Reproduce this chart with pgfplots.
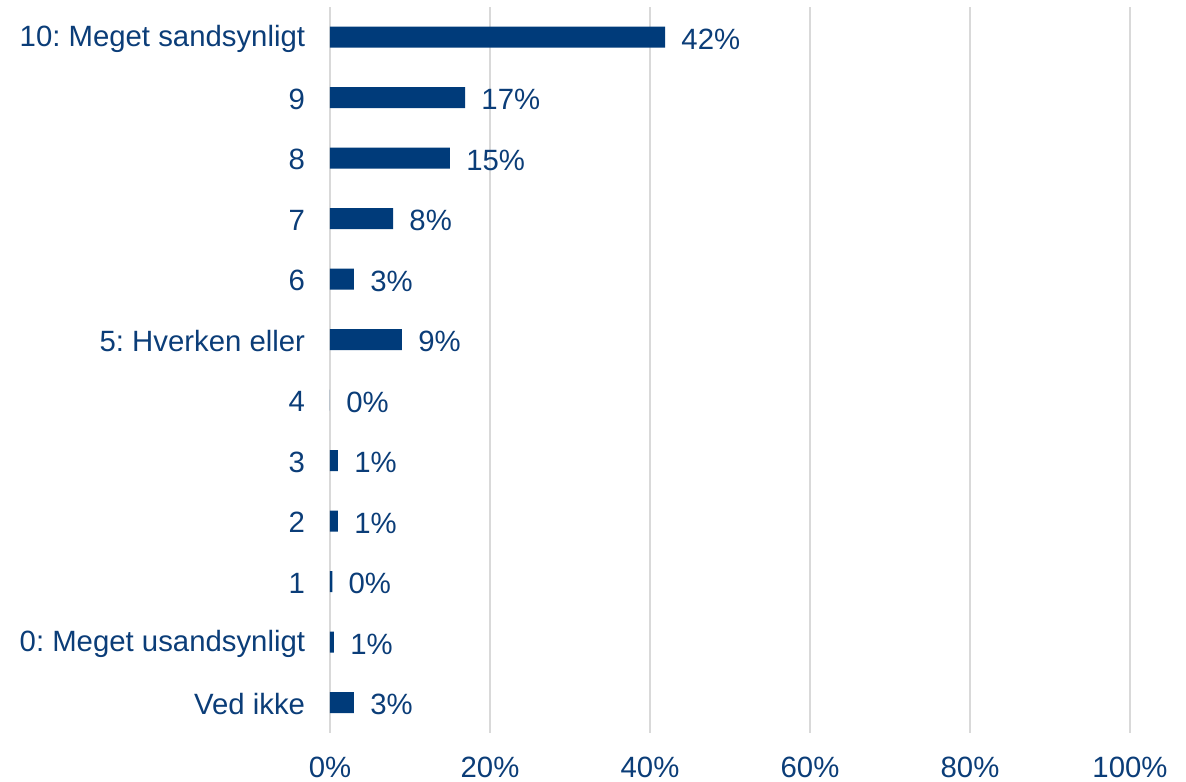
\documentclass[border=0pt]{standalone}
\usepackage{pgfplots}
\pgfplotsset{compat=1.18}
\usepackage{pgfplotstable}
\usepackage{fontspec}
\setmainfont{Liberation Sans}
\definecolor{barblue}{HTML}{003B7A}
\definecolor{txtblue}{HTML}{0B3D78}
\definecolor{gridgrey}{HTML}{D9D9D9}
\pgfplotstableread{
y val lab
0 3 3\%
1 0.5 1\%
2 0.3 0\%
3 1 1\%
4 1 1\%
5 0 0\%
6 9 9\%
7 3 3\%
8 7.9 8\%
9 15 15\%
10 16.9 17\%
11 41.9 42\%
}\datatab
\frenchspacing
\begin{document}
\frenchspacing
\fontsize{22}{26}\selectfont
\begin{tikzpicture}
\begin{axis}[
  scale only axis,
  width=600pt, height=544.5pt,
  xmin=0, xmax=100,
  ymin=-0.5, ymax=11.5,
  xtick={0,20,40,60,80,100},
  xticklabels={0\%,20\%,40\%,60\%,80\%,100\%},
  ytick={0,...,11},
  yticklabels={Ved ikke,0: Meget usandsynligt,1,2,3,4,5: Hverken eller,6,7,8,9,10: Meget sandsynligt},
  xmajorgrids,
  grid style={gridgrey, line width=1.1pt},
  axis line style={draw=none},
  major tick length=0pt,
  tick label style={font=\fontsize{22}{26}\selectfont\frenchspacing, text=txtblue},
  x tick label style={inner sep=0pt, anchor=north, yshift=-18pt},
  y tick label style={inner sep=0pt, anchor=east, xshift=-18.5pt, yshift=-1pt},
  xbar, bar width=15.75pt,
  nodes near coords,
  point meta=explicit symbolic,
  every node near coord/.style={anchor=west, inner sep=0pt, xshift=12pt, yshift=-1.5pt, text=txtblue, font=\fontsize{22}{26}\selectfont},
  clip=false,
]
\addplot[fill=barblue, draw=none] table[x=val, y=y, meta=lab] {\datatab};
\coordinate (bl) at (rel axis cs:0,0);
\coordinate (tr) at (rel axis cs:1,1);
\end{axis}
\pgfresetboundingbox
\path ([shift={(-247.5pt,-36.75pt)}]bl) rectangle ([shift={(42pt,5.25pt)}]tr);
\end{tikzpicture}
\end{document}
